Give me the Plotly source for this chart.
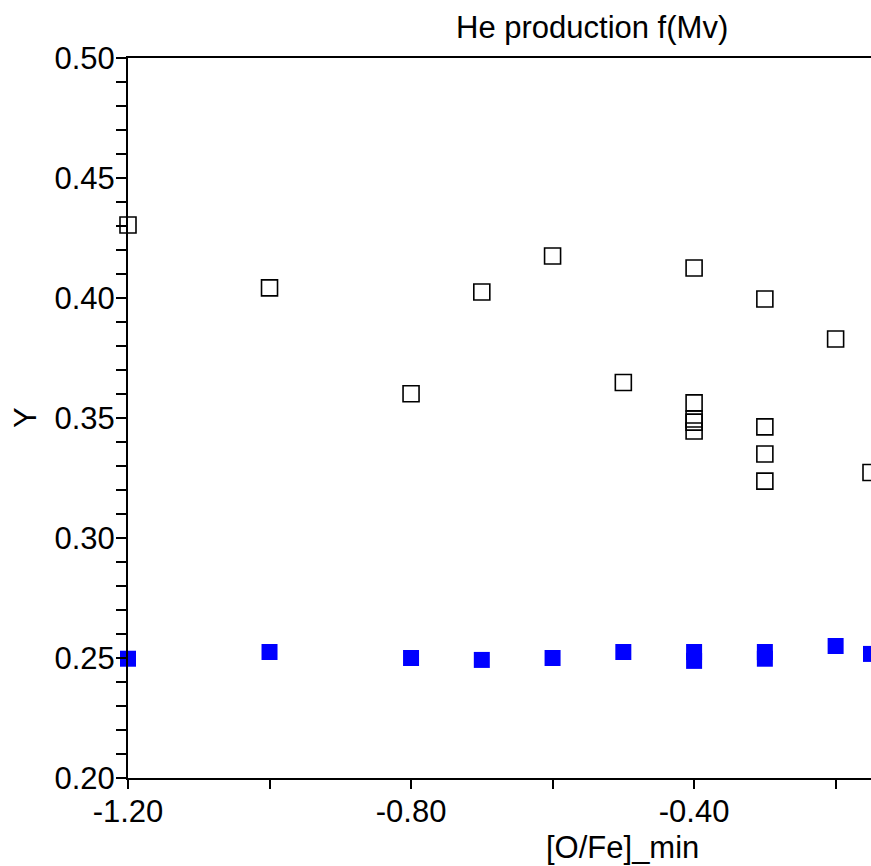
import plotly.graph_objects as go

# Open squares (total Y)
open_x = [-1.2, -1.0, -0.8, -0.7, -0.6, -0.5, -0.4, -0.4, -0.4, -0.4, -0.4,
          -0.3, -0.3, -0.3, -0.3, -0.2, -0.15]
open_y = [0.4304, 0.4042, 0.3601, 0.4025, 0.4175, 0.3648, 0.4125, 0.3563, 0.3496, 0.3483, 0.3446,
          0.3996, 0.3463, 0.3350, 0.3237, 0.3829, 0.3273]

# Filled blue squares
fill_x = [-1.2, -1.0, -0.8, -0.7, -0.6, -0.5, -0.4, -0.4, -0.3, -0.3, -0.2, -0.15]
fill_y = [0.2497, 0.2525, 0.2500, 0.2492, 0.2500, 0.2525, 0.2525, 0.2488, 0.2525, 0.2497, 0.2550, 0.2517]

# Tick labels
x_tickvals = [-1.2, -0.8, -0.4]
x_ticktext = ["-1.20", "-0.80", "-0.40"]
y_tickvals = [0.20, 0.25, 0.30, 0.35, 0.40, 0.45, 0.50]
y_ticktext = ["0.20", "0.25", "0.30", "0.35", "0.40", "0.45", "0.50"]

FONT = "Liberation Sans, Arial, sans-serif"
FS = 31

fig = go.Figure()
fig.add_trace(go.Scatter(
    x=open_x, y=open_y, mode="markers", cliponaxis=False,
    marker=dict(symbol="square-open", size=16, color="black", line=dict(width=1.6, color="black")),
    showlegend=False))
fig.add_trace(go.Scatter(
    x=fill_x, y=fill_y, mode="markers", cliponaxis=False,
    marker=dict(symbol="square", size=16, color="#0000ff", line=dict(width=0)),
    showlegend=False))

fig.update_layout(
    width=871, height=866,
    margin=dict(l=128, r=0, t=58, b=88),
    paper_bgcolor="white", plot_bgcolor="white",
    font=dict(family=FONT, size=FS, color="black"),
    xaxis=dict(range=[-1.2, -0.15], tickmode="array", tickvals=x_tickvals, ticktext=x_ticktext,
               showgrid=False, zeroline=False,
               showline=True, linecolor="black", linewidth=2, mirror=True,
               ticks="outside", ticklen=9, tickwidth=1.6, tickcolor="black",
               ticklabelstandoff=-4,
               minor=dict(tick0=-1.2, dtick=0.2, ticks="outside", ticklen=9,
                          tickwidth=1.6, tickcolor="black", showgrid=False),
               tickfont=dict(family=FONT, size=FS)),
    yaxis=dict(range=[0.20, 0.50], tickmode="array", tickvals=y_tickvals, ticktext=y_ticktext,
               showgrid=False, zeroline=False,
               showline=True, linecolor="black", linewidth=2, mirror=False,
               ticks="outside", ticklen=10, tickwidth=1.6, tickcolor="black",
               ticklabelstandoff=-5,
               minor=dict(tick0=0.2, dtick=0.01, ticks="outside", ticklen=10,
                          tickwidth=1.6, tickcolor="black", showgrid=False),
               tickfont=dict(family=FONT, size=FS)),
    annotations=[
        dict(text="He production f(Mv)", xref="paper", yref="paper",
             x=0.624, y=1.0417, xanchor="center", yanchor="middle",
             showarrow=False, font=dict(family=FONT, size=FS)),
        dict(text="[O/Fe]_min", xref="paper", yref="paper",
             x=0.666, y=-0.097, xanchor="center", yanchor="middle",
             showarrow=False, font=dict(family=FONT, size=FS)),
        dict(text="Y", xref="paper", yref="paper",
             x=-0.1386, y=0.5, xanchor="center", yanchor="middle", textangle=-90,
             showarrow=False, font=dict(family=FONT, size=FS)),
    ],
)

fig.write_html("out.html")
